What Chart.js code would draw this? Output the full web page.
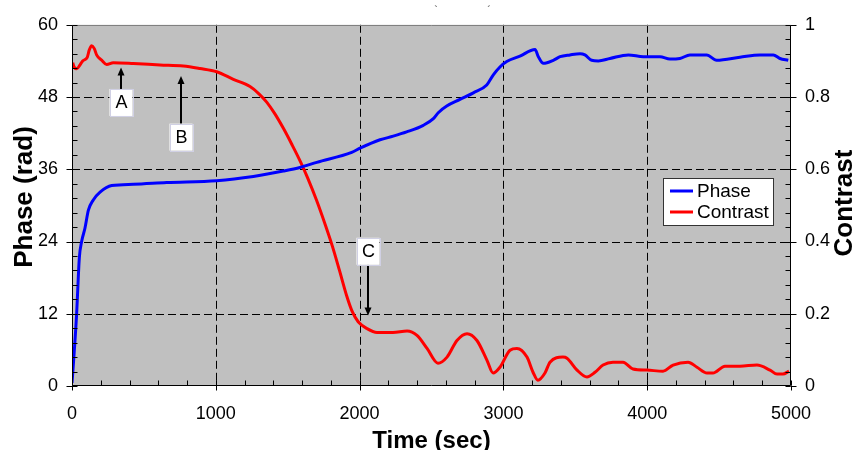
<!DOCTYPE html>
<html>
<head>
<meta charset="utf-8">
<title>Phase and contrast vs time</title>
<script src="https://cdn.jsdelivr.net/npm/chart.js@4.4.1/dist/chart.umd.min.js"></script>
<style>
    html, body { margin: 0; padding: 0; background: #fff; }
    canvas { display: block; }
</style>
</head>
<body>
<canvas id="chart" width="854" height="450"></canvas>
<script>
// Data
const phaseTime = [0, 15, 32, 51, 67, 90, 114, 148, 195, 276, 426, 658, 1006, 1261, 1469, 1585,
    1702, 1945, 2003, 2142, 2234, 2327, 2443, 2513, 2547, 2606, 2698, 2791, 2884, 2930, 2976,
    3023, 3115, 3220, 3243, 3278, 3347, 3394, 3463, 3533, 3567, 3614, 3660, 3741, 3869, 3973,
    4089, 4158, 4228, 4297, 4414, 4483, 4645, 4784, 4877, 4923, 4981];
const phaseValues = [0.5, 5.5, 11.9, 21.3, 24.0, 26.2, 29.2, 30.9, 32.2, 33.3, 33.5, 33.8, 34.1, 34.8, 35.7, 36.3,
    37.15, 38.8, 39.5, 40.9, 41.5, 42.2, 43.3, 44.4, 45.4, 46.5, 47.6, 48.7, 50.0, 51.7, 53.0,
    53.9, 54.8, 55.9, 54.7, 53.6, 54.1, 54.7, 55.0, 55.2, 55.0, 54.1, 54.0, 54.4, 55.0, 54.7,
    54.7, 54.3, 54.4, 55.0, 55.0, 54.1, 54.6, 55.0, 55.0, 54.4, 54.1];

const contrastTime = [5, 14, 32, 56, 74, 106, 120, 137, 155, 172, 206, 241, 287, 426, 612, 774, 890,
    1006, 1122, 1238, 1300, 1354, 1410, 1469, 1530, 1590, 1640, 1700, 1760, 1810, 1860, 1910,
    1950, 1990, 2051, 2121,
    2232, 2330, 2399, 2469, 2545, 2608, 2677, 2747, 2816, 2886, 2928, 2976, 3046, 3094, 3164,
    3206, 3240, 3289, 3324, 3414, 3442, 3512, 3581, 3637, 3693, 3762, 3832, 3901, 3999, 4110,
    4180, 4284, 4346, 4416, 4457, 4541, 4645, 4763, 4854, 4903, 4944, 4986];
const contrastValues = [0.895, 0.884, 0.878, 0.889, 0.900, 0.910, 0.930, 0.942, 0.934, 0.916, 0.902, 0.890, 0.895, 0.893, 0.889, 0.886, 0.879,
    0.870, 0.849, 0.829, 0.809, 0.786, 0.754, 0.714, 0.668, 0.620, 0.575, 0.515, 0.448, 0.388, 0.320, 0.250,
    0.205, 0.178, 0.159, 0.148,
    0.148, 0.152, 0.140, 0.104, 0.063, 0.080, 0.126, 0.145, 0.126, 0.071, 0.036, 0.052, 0.099, 0.104, 0.080,
    0.038, 0.016, 0.036, 0.066, 0.080, 0.077, 0.044, 0.025, 0.038, 0.058, 0.066, 0.066, 0.047, 0.044, 0.041,
    0.058, 0.066, 0.052, 0.036, 0.036, 0.055, 0.055, 0.058, 0.044, 0.033, 0.033, 0.041];

const timeTicks = [0, 1000, 2000, 3000, 4000, 5000];
const phaseTicks = [0, 12, 24, 36, 48, 60];
const contrastTicks = [0, 0.2, 0.4, 0.6, 0.8, 1];

// Labelled arrows (time, contrast of arrow tip, contrast of label box centre)
const markerLabels = ['A', 'B', 'C'];
const markerTime = [339, 758, 2056];
const markerTip = [0.882, 0.858, 0.195];
const markerBox = [0.785, 0.689, 0.373];

const FONT = "'Liberation Sans', Arial, sans-serif";

function toPoints(xs, ys) {
    return xs.map((x, i) => ({ x: x, y: ys[i] }));
}

function minorValues(scale, step) {
    const out = [];
    for (let v = scale.min; v <= scale.max + step / 2; v += step) out.push(v);
    return out;
}

const decorations = {
    id: 'decorations',
    beforeDraw(chart) {
        const { ctx, chartArea: a } = chart;
        ctx.save();
        ctx.fillStyle = '#c0c0c0';
        ctx.fillRect(a.left, a.top, a.right - a.left, a.bottom - a.top);
        ctx.restore();
    },
    beforeDatasetsDraw(chart) {
        const { ctx, chartArea: a, scales } = chart;
        ctx.save();
        ctx.strokeStyle = '#000';
        ctx.lineWidth = 1;
        ctx.setLineDash([8, 4]);
        timeTicks.slice(1, -1).forEach(v => {
            const x = Math.round(scales.x.getPixelForValue(v)) + 0.5;
            ctx.beginPath();
            ctx.moveTo(x, a.top);
            ctx.lineTo(x, a.bottom);
            ctx.stroke();
        });
        phaseTicks.slice(1, -1).forEach(v => {
            const y = Math.round(scales.y.getPixelForValue(v)) + 0.5;
            ctx.beginPath();
            ctx.moveTo(a.left, y);
            ctx.lineTo(a.right, y);
            ctx.stroke();
        });
        ctx.restore();
    },
    afterDatasetsDraw(chart) {
        const { ctx, chartArea: a, scales } = chart;
        const L = Math.round(a.left) + 0.5, R = Math.round(a.right) - 0.5;
        const T = Math.round(a.top) + 0.5, B = Math.round(a.bottom) - 0.5;
        ctx.save();

        // frame
        ctx.lineWidth = 1;
        ctx.strokeStyle = '#808080';
        ctx.beginPath();
        ctx.moveTo(L, T);
        ctx.lineTo(R, T);
        ctx.stroke();
        ctx.strokeStyle = '#000';
        ctx.beginPath();
        ctx.moveTo(L, T); ctx.lineTo(L, B); ctx.lineTo(R, B); ctx.lineTo(R, T);
        ctx.stroke();

        // tick marks: major outward, minor inward
        ctx.beginPath();
        minorValues(scales.x, 200).forEach(v => {
            const x = Math.round(scales.x.getPixelForValue(v)) + 0.5;
            ctx.moveTo(x, B);
            ctx.lineTo(x, B - 5);
        });
        timeTicks.forEach(v => {
            const x = Math.round(scales.x.getPixelForValue(v)) + 0.5;
            ctx.moveTo(x, B);
            ctx.lineTo(x, B + 5);
        });
        minorValues(scales.y, 2.4).forEach(v => {
            const y = Math.round(scales.y.getPixelForValue(v)) + 0.5;
            ctx.moveTo(L, y);
            ctx.lineTo(L + 5, y);
        });
        phaseTicks.forEach(v => {
            const y = Math.round(scales.y.getPixelForValue(v)) + 0.5;
            ctx.moveTo(L - 6, y);
            ctx.lineTo(L, y);
        });
        minorValues(scales.y1, 0.04).forEach(v => {
            const y = Math.round(scales.y1.getPixelForValue(v)) + 0.5;
            ctx.moveTo(R - 5, y);
            ctx.lineTo(R, y);
        });
        contrastTicks.forEach(v => {
            const y = Math.round(scales.y1.getPixelForValue(v)) + 0.5;
            ctx.moveTo(R, y);
            ctx.lineTo(R + 6, y);
        });
        ctx.stroke();

        // labelled arrows
        markerLabels.forEach((label, i) => {
            const x = Math.round(scales.x.getPixelForValue(markerTime[i]));
            const tip = scales.y1.getPixelForValue(markerTip[i]);
            const cy = scales.y1.getPixelForValue(markerBox[i]);
            const bw = 23, bh = 27;
            const start = tip < cy ? cy - bh / 2 : cy + bh / 2;
            const dir = tip < cy ? 1 : -1;
            ctx.strokeStyle = '#000';
            ctx.lineWidth = 2;
            ctx.beginPath();
            ctx.moveTo(x, start);
            ctx.lineTo(x, tip + dir * 7);
            ctx.stroke();
            ctx.fillStyle = '#000';
            ctx.beginPath();
            ctx.moveTo(x, tip);
            ctx.lineTo(x - 3.5, tip + dir * 8);
            ctx.lineTo(x + 3.5, tip + dir * 8);
            ctx.closePath();
            ctx.fill();

            ctx.fillStyle = '#fff';
            ctx.fillRect(x - bw / 2, cy - bh / 2, bw, bh);
            ctx.strokeStyle = '#d0d0e4';
            ctx.lineWidth = 1;
            ctx.strokeRect(Math.round(x - bw / 2) + 0.5, Math.round(cy - bh / 2) + 0.5, bw, bh);
            ctx.fillStyle = '#000';
            ctx.font = '18px ' + FONT;
            ctx.textAlign = 'center';
            ctx.textBaseline = 'middle';
            ctx.fillText(label, x + 0.5, cy + 1);
        });

        // legend
        const lx = 663.5, ly = 178.5;
        ctx.fillStyle = '#fff';
        ctx.fillRect(lx, ly, 110, 47);
        ctx.strokeStyle = '#333';
        ctx.lineWidth = 1;
        ctx.strokeRect(lx, ly, 110, 47);
        chart.data.datasets.forEach((ds, i) => {
            const y = 191 + i * 21;
            ctx.strokeStyle = ds.borderColor;
            ctx.lineWidth = 3;
            ctx.beginPath();
            ctx.moveTo(670, y);
            ctx.lineTo(693, y);
            ctx.stroke();
            ctx.fillStyle = '#000';
            ctx.font = '19px ' + FONT;
            ctx.textAlign = 'left';
            ctx.textBaseline = 'middle';
            ctx.fillText(ds.label, 697, y + 1);
        });

        // axis titles
        ctx.fillStyle = '#000';
        ctx.textAlign = 'center';
        ctx.textBaseline = 'alphabetic';
        ctx.font = 'bold 24px ' + FONT;
        ctx.fillText('Time (sec)', (a.left + a.right) / 2, 448);

        ctx.font = 'bold 26px ' + FONT;
        ctx.save();
        ctx.translate(32, 197);
        ctx.rotate(-Math.PI / 2);
        ctx.fillText('Phase (rad)', 0, 0);
        ctx.restore();
        ctx.save();
        ctx.translate(852, 203);
        ctx.rotate(-Math.PI / 2);
        ctx.fillText('Contrast', 0, 0);
        ctx.restore();

        // remnants of a cut-off title at the top edge
        ctx.font = '11px ' + FONT;
        ctx.fillStyle = '#444';
        ctx.fillText('`', 436, 14);
        ctx.fillText('\u00b4', 489, 14);

        ctx.restore();
    }
};

const tickFont = { family: FONT, size: 18 };

new Chart(document.getElementById('chart'), {
    type: 'line',
    data: {
        datasets: [
            {
                label: 'Phase',
                data: toPoints(phaseTime, phaseValues),
                yAxisID: 'y',
                borderColor: '#0000ff',
                borderWidth: 3,
                pointRadius: 0,
                cubicInterpolationMode: 'monotone',
                fill: false
            },
            {
                label: 'Contrast',
                data: toPoints(contrastTime, contrastValues),
                yAxisID: 'y1',
                borderColor: '#ff0000',
                borderWidth: 3,
                pointRadius: 0,
                cubicInterpolationMode: 'monotone',
                fill: false
            }
        ]
    },
    options: {
        responsive: false,
        animation: false,
        events: [],
        layout: { padding: { top: 21, left: 0, right: 0, bottom: 0 } },
        plugins: {
            legend: { display: false },
            tooltip: { enabled: false }
        },
        scales: {
            x: {
                type: 'linear',
                position: 'bottom',
                min: 0,
                max: 5000,
                afterBuildTicks: s => { s.ticks = timeTicks.map(v => ({ value: v })); },
                afterFit: s => { s.height = 64; },
                grid: { display: false, drawTicks: false },
                border: { display: false },
                ticks: {
                    color: '#000',
                    font: tickFont,
                    padding: 17,
                    maxRotation: 0,
                    callback: v => String(v)
                }
            },
            y: {
                type: 'linear',
                position: 'left',
                min: 0,
                max: 60,
                afterBuildTicks: s => { s.ticks = phaseTicks.map(v => ({ value: v })); },
                afterFit: s => { s.width = 72; },
                grid: { display: false, drawTicks: false },
                border: { display: false },
                ticks: { color: '#000', font: tickFont, padding: 14, callback: v => String(v) }
            },
            y1: {
                type: 'linear',
                position: 'right',
                min: 0,
                max: 1,
                afterBuildTicks: s => { s.ticks = contrastTicks.map(v => ({ value: v })); },
                afterFit: s => { s.width = 63; },
                grid: { display: false, drawTicks: false },
                border: { display: false },
                ticks: { color: '#000', font: tickFont, padding: 14, callback: v => String(v) }
            }
        }
    },
    plugins: [decorations]
});
</script>
</body>
</html>
